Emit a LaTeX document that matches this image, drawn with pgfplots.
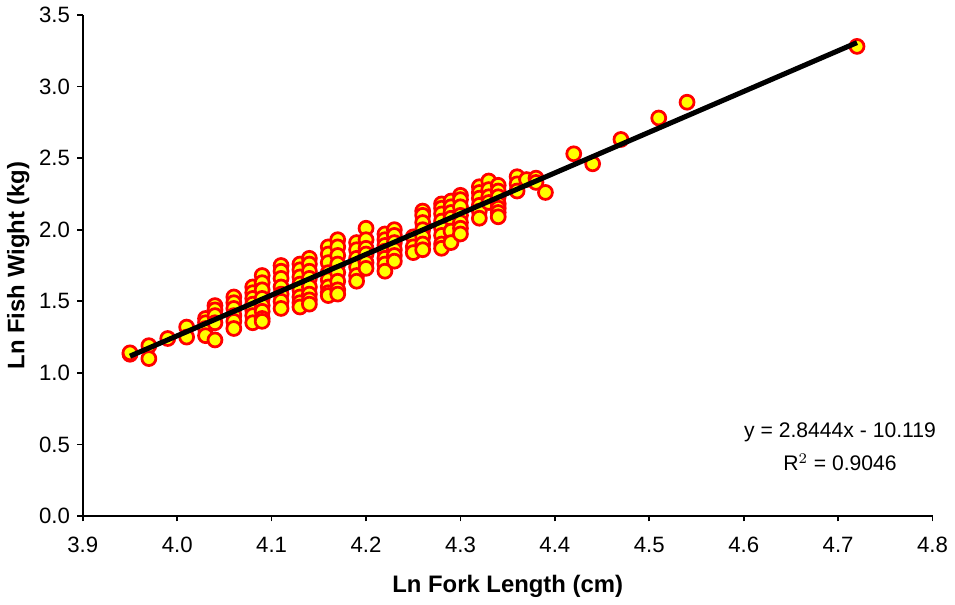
\documentclass[border=0pt]{standalone}
\usepackage{pgfplots}
\pgfplotsset{compat=1.18}
\usepackage{fontspec}
\setmainfont{Liberation Sans}
\definecolor{ptfill}{RGB}{255,255,0}
\definecolor{ptedge}{RGB}{255,0,0}

\pgfplotstableread{
x y
3.95 1.13
3.95 1.14
3.97 1.19
3.97 1.10
3.99 1.24
4.01 1.32
4.01 1.25
4.03 1.38
4.03 1.35
4.03 1.31
4.03 1.26
4.04 1.47
4.04 1.44
4.04 1.40
4.04 1.35
4.04 1.23
4.06 1.53
4.06 1.49
4.06 1.45
4.06 1.40
4.06 1.36
4.06 1.31
4.08 1.60
4.08 1.56
4.08 1.52
4.08 1.48
4.08 1.44
4.08 1.40
4.08 1.35
4.09 1.68
4.09 1.63
4.09 1.58
4.09 1.52
4.09 1.47
4.09 1.43
4.09 1.38
4.09 1.36
4.11 1.75
4.11 1.71
4.11 1.66
4.11 1.60
4.11 1.55
4.11 1.50
4.11 1.45
4.13 1.76
4.13 1.72
4.13 1.67
4.13 1.62
4.13 1.58
4.13 1.53
4.13 1.49
4.13 1.46
4.14 1.80
4.14 1.76
4.14 1.71
4.14 1.66
4.14 1.60
4.14 1.55
4.14 1.51
4.14 1.48
4.16 1.88
4.16 1.83
4.16 1.77
4.16 1.70
4.16 1.65
4.16 1.60
4.16 1.56
4.16 1.54
4.17 1.93
4.17 1.88
4.17 1.82
4.17 1.76
4.17 1.70
4.17 1.64
4.17 1.58
4.17 1.55
4.19 1.91
4.19 1.86
4.19 1.80
4.19 1.74
4.19 1.68
4.19 1.64
4.20 2.01
4.20 1.93
4.20 1.87
4.20 1.83
4.20 1.77
4.20 1.73
4.22 1.97
4.22 1.93
4.22 1.89
4.22 1.85
4.22 1.80
4.22 1.76
4.22 1.71
4.23 2.00
4.23 1.96
4.23 1.91
4.23 1.86
4.23 1.82
4.23 1.78
4.25 1.95
4.25 1.88
4.25 1.84
4.26 2.13
4.26 2.10
4.26 2.05
4.26 2.00
4.26 1.95
4.26 1.90
4.26 1.86
4.28 2.18
4.28 2.15
4.28 2.11
4.28 2.06
4.28 2.01
4.28 1.96
4.28 1.90
4.28 1.87
4.29 2.20
4.29 2.16
4.29 2.12
4.29 2.08
4.29 1.99
4.29 1.91
4.30 2.24
4.30 2.21
4.30 2.16
4.30 2.10
4.30 2.05
4.30 2.01
4.30 1.97
4.32 2.30
4.32 2.26
4.32 2.22
4.32 2.17
4.32 2.13
4.32 2.08
4.33 2.34
4.33 2.28
4.33 2.23
4.33 2.19
4.34 2.31
4.34 2.27
4.34 2.23
4.34 2.18
4.34 2.15
4.34 2.12
4.34 2.09
4.36 2.37
4.36 2.32
4.36 2.27
4.37 2.35
4.38 2.36
4.38 2.33
4.39 2.26
4.42 2.53
4.44 2.46
4.47 2.63
4.51 2.78
4.54 2.89
4.72 3.28
}\fishdata

\begin{document}
\begin{tikzpicture}
\begin{axis}[
  set layers,
  scale only axis,
  width=14.14cm, height=8.34cm,
  xmin=3.9, xmax=4.8, ymin=0, ymax=3.5,
  xtick={3.9,4.0,...,4.8}, ytick={0,0.5,...,3.5},
  axis x line=bottom, axis y line=left,
  axis line style={-, line width=0.9pt},
  tick align=outside, major tick length=0.09cm,
  tick style={black, line width=0.8pt},
  /pgf/number format/assume math mode=true,
  /pgf/number format/.cd, fixed, fixed zerofill, precision=1, /pgfplots/.cd,
  ticklabel style={font=\fontsize{10.5}{12}\selectfont},
  xticklabel style={yshift=-0.14cm},
  xlabel={\textbf{Ln Fork Length (cm)}},
  ylabel={\textbf{Ln Fish Wight (kg)}},
  label style={font=\fontsize{11.3}{13}\selectfont},
  xlabel style={yshift=-0.12cm},
  ylabel style={yshift=-0.08cm},
  clip=false,
]
\addplot[only marks, mark=*, mark size=3.3pt,
  mark options={fill=ptfill, draw=ptedge, line width=1.3pt}]
  table[x=x, y=y] {\fishdata};
\addplot[black, line width=2.4pt, on layer=axis foreground]
  coordinates {(3.95,1.1168) (4.72,3.3066)};
\node[align=center, font=\fontsize{10}{16}\selectfont] at (axis cs:4.702,0.485)
  {y = 2.8444x - 10.119\\R$^{2}$ = 0.9046};
\end{axis}
\end{tikzpicture}
\end{document}
